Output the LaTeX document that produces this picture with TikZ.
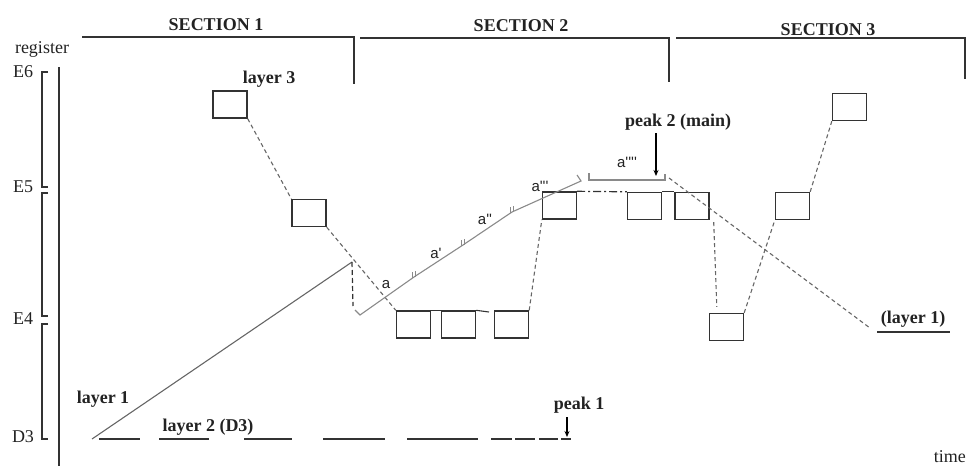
\documentclass[tikz,border=0pt]{standalone}
\usepackage{fontspec}
\setmainfont{Liberation Serif}
\newfontfamily\sansa{Liberation Sans}
\usetikzlibrary{calc,arrows.meta}
\definecolor{ink}{HTML}{333333}
\definecolor{txt}{HTML}{222222}
\definecolor{dashc}{HTML}{666666}
\definecolor{lgray}{HTML}{8A8A8A}
\begin{document}
\begin{tikzpicture}[x=1pt,y=-1pt,
  boxn/.style={draw=ink,line width=1.4pt,rectangle,minimum width=34pt,minimum height=27pt,inner sep=0pt},
  secline/.style={draw=ink,line width=1.2pt},
  axline/.style={draw=ink,line width=1.2pt},
  dline/.style={draw=dashc,line width=1.1pt,dash pattern=on 4pt off 3pt},
  ddline/.style={draw=ink,line width=1.2pt,dash pattern=on 5pt off 3pt},
  gline/.style={draw=lgray,line width=1.1pt},
  solidl/.style={draw=ink,line width=1.1pt},
  blab/.style={font=\fontsize{18}{20}\selectfont\bfseries,text=txt,inner sep=0pt,anchor=base},
  rlab/.style={font=\fontsize{18}{20}\selectfont,text=txt,inner sep=0pt,anchor=base},
  alab/.style={font=\sansa\fontsize{15}{17}\selectfont,text=txt,inner sep=0pt,anchor=base},
  arr/.style={draw=black,line width=1.1pt,-{Stealth[length=6pt,width=5pt]}}
]
\useasboundingbox (0,0) rectangle (966,466);

% section headers
\node[blab] (s1) at (216,30) {SECTION 1};
\node[blab] (s2) at (521,31) {SECTION 2};
\node[blab] (s3) at (828,35) {SECTION 3};
\coordinate (s1a) at (82,37); \coordinate (s1b) at (354,37); \coordinate (s1c) at (354,84);
\coordinate (s2a) at (360,38); \coordinate (s2b) at (669,38); \coordinate (s2c) at (669,82);
\coordinate (s3a) at (676,38); \coordinate (s3b) at (965,38); \coordinate (s3c) at (965,79);
\draw[secline] (s1a) -- (s1b) -- (s1c);
\draw[secline] (s2a) -- (s2b) -- (s2c);
\draw[secline] (s3a) -- (s3b) -- (s3c);

% register axis
\node[rlab] (reg) at (42,53) {register};
\node[rlab] (e6) at (23,77) {E6};
\node[rlab] (e5) at (23,192) {E5};
\node[rlab] (e4) at (23,324) {E4};
\node[rlab] (d3) at (23,442) {D3};
\coordinate (ax0) at (59,67); \coordinate (ax1) at (59,466);
\draw[axline] (ax0) -- (ax1);
\draw[axline] (48,72) -- (42,72) -- (42,187) -- (48,187);
\draw[axline] (48,193) -- (42,193) -- (42,316) -- (48,316);
\draw[axline] (48,324) -- (42,324) -- (42,439) -- (48,439);

% boxes
\node[boxn] (b1) at (230,104.5) {};
\node[boxn] (b2) at (309,213) {};
\node[boxn] (c1) at (413.5,324.5) {};
\node[boxn] (c2) at (458.5,324.5) {};
\node[boxn] (c3) at (511.5,324.5) {};
\node[boxn] (u1) at (559.5,205.5) {};
\node[boxn] (u2) at (644.5,206) {};
\node[boxn] (u3) at (692,206) {};
\node[boxn] (d1) at (726.5,327) {};
\node[boxn] (m1) at (792.5,206) {};
\node[boxn] (t1) at (849.5,107) {};

% layer labels
\node[blab] (l3) at (269,83) {layer 3};
\node[blab] (l1) at (103,403) {layer 1};
\node[blab] (l2) at (208,431) {layer 2 (D3)};
\node[blab] (pk1) at (579,409) {peak 1};
\node[blab] (pk2) at (678,126) {peak 2 (main)};
\node[blab] (l1b) at (913,323) {(layer 1)};
\node[rlab,anchor=base east] (time) at (966,462) {time};

% layer 1 line
\coordinate (L0) at (92,439);
\coordinate (P) at (352,262);
\coordinate (Pd) at (353,306);
\draw[solidl,draw=dashc] (L0) -- (P);
\draw[ddline] (P) -- (Pd);

% layer 3 dashed connectors
\draw[dline] (b1.south east) -- (b2.north west);
\draw[dline] (b2.south east) -- (c1.north west);
\draw[dline] (c3.north east) -- (u1.south west);
\draw[dline] ($(u3.south east)+(4,2)$) -- ($(d1.north west)+(8,-6)$);
\draw[dline] (d1.north east) -- (m1.south west);
\draw[dline] (m1.north east) -- (t1.south west);

% box links
\coordinate (c2e) at (489,312);
\draw[solidl] (c1.north east) -- (c2.north west);
\draw[solidl] (c2.north east) -- (c2e);
\draw[ink,line width=1.2pt,dash pattern=on 8pt off 3pt on 2pt off 3pt] (u1.north east) -- (u2.north west);
\draw[solidl] (u2.north east) -- (u3.north west);

% gray a-line
\coordinate (g0) at (355,310);
\coordinate (g1) at (360,315);
\coordinate (ta) at (414,277);
\coordinate (tb) at (463,245);
\coordinate (tc) at (512,212);
\coordinate (g5) at (581,181);
\coordinate (g6) at (577,175);
\draw[gline] (g0) -- (g1) -- (ta) -- (tb) -- (tc) -- (g5) -- (g6);
\foreach \t in {ta,tb,tc}{
  \draw[gline] ($(\t)+(-1.5,-5)$) -- ($(\t)+(-1.5,1)$);
  \draw[gline] ($(\t)+(1.5,-6)$) -- ($(\t)+(1.5,0)$);
}
\node[alab] (a1) at (386,288) {a};
\node[alab] (a2) at (436,258) {a'};
\node[alab] (a3) at (485,224) {a''};
\node[alab] (a4) at (540,191) {a'''};
\node[alab] (a5) at (627,167) {a''''};

% a'''' bracket
\draw[gline] (589,173) -- (589,180) -- (665,180) -- (665,174);

% descending dashed layer 1 line
\coordinate (q0) at (669,178);
\coordinate (q1) at (870,328);
\draw[dline] (q0) -- (q1);
\coordinate (ul0) at (877,332); \coordinate (ul1) at (950,332);
\draw[solidl] (ul0) -- (ul1);

% arrows
\coordinate (pk2a) at (656,133); \coordinate (pk2b) at (656,176);
\draw[arr] (pk2a) -- (pk2b);
\coordinate (pk1a) at (567,417); \coordinate (pk1b) at (567,437);
\draw[arr] (pk1a) -- (pk1b);

% layer 2 dashes
\foreach \a/\b in {99/140,159/209,244/292,323/385,407/478,491/512,515/535,539/558,561/571}{
  \draw[solidl] (\a,439) -- (\b,439);
}
\end{tikzpicture}
\end{document}
